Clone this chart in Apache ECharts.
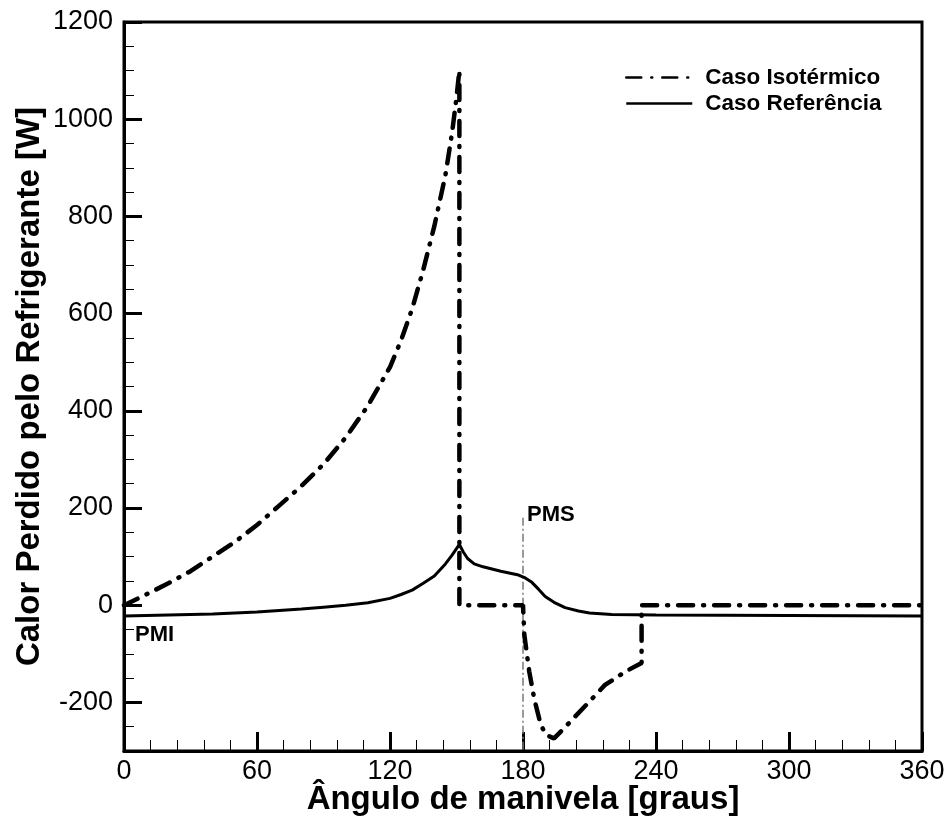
<!DOCTYPE html>
<html lang="pt">
<head>
<meta charset="utf-8">
<script src="https://cdn.jsdelivr.net/npm/echarts@6/dist/echarts.min.js"></script>
</head>
<body style="margin:0">
<div id="chart" style="width:947px;height:819px"></div>
<script>
// Caso Isotérmico
var isoAngle = [0, 10, 20, 30, 40, 50, 60, 70, 80, 90, 100, 110, 120, 125, 130, 135, 140, 145, 148, 150, 151.3,
    151.3, 180, 180.6, 182.8, 185, 188, 190.4, 194, 199.4, 210, 217, 226.4, 233.5, 233.5, 360];
var isoValue = [0, 22, 45, 70, 100, 130, 165, 205, 245, 290, 345, 410, 490, 545, 610, 690, 780, 885, 972, 1045, 1100,
    0, 0, -61, -136, -191, -246, -267, -274, -249, -198, -164, -136, -119, 0, 0];

// Caso Referência
var refAngle = [0, 20, 40, 60, 80, 90, 100, 110, 120, 125, 130, 135, 140, 145, 148, 151.3,
    153, 155, 158, 162, 170, 178, 181, 184, 187, 190, 194, 199, 205, 210, 220, 240, 300, 360];
var refValue = [-22, -20, -18, -14, -8, -4, 0, 5, 14, 22, 31, 45, 60, 85, 103, 125,
    110, 96, 85, 79, 70, 62, 56, 47, 33, 18, 6, -5, -12, -16, -19, -20, -21, -22];

var pmsLine = [[180, 180], [180, -300]];
var pmiPoint = [[0, -61]];

var xTicks = [0, 60, 120, 180, 240, 300, 360];
var yTicks = [-200, 0, 200, 400, 600, 800, 1000, 1200];

function zip(a, b) {
    return a.map(function (v, i) { return [v, b[i]]; });
}

var chart = echarts.init(document.getElementById('chart'));
var font = 'Liberation Sans, Arial, sans-serif';

chart.setOption({
    animation: false,
    backgroundColor: '#fff',
    grid: {left: 124, right: 25, top: 22, bottom: 68, show: true, borderColor: '#000', borderWidth: 3,
        containLabel: false, outerBoundsMode: 'none'},
    legend: {
        orient: 'vertical',
        left: 620,
        top: 61,
        itemWidth: 66,
        itemHeight: 14,
        itemGap: 3,
        data: ['Caso Isotérmico', 'Caso Referência'],
        itemStyle: {opacity: 0},
        lineStyle: {width: 2.5, color: '#000'},
        textStyle: {fontFamily: font, fontWeight: 'bold', fontSize: 22.5, color: '#000', padding: [0, 0, 0, 8]}
    },
    xAxis: {
        type: 'value',
        min: xTicks[0],
        max: xTicks[xTicks.length - 1],
        interval: 60,
        name: 'Ângulo de manivela [graus]',
        nameLocation: 'middle',
        nameGap: 32,
        nameMoveOverlap: false,
        nameTextStyle: {fontFamily: font, fontWeight: 'bold', fontSize: 33, color: '#000'},
        axisLine: {onZero: false, lineStyle: {color: '#000', width: 3}},
        axisTick: {inside: true, length: 19, lineStyle: {color: '#000', width: 3}},
        minorTick: {show: true, splitNumber: 5, length: 11, lineStyle: {color: '#000', width: 1}},
        axisLabel: {fontFamily: font, fontSize: 27, color: '#000', margin: 7},
        splitLine: {show: false}
    },
    yAxis: [{
        type: 'value',
        min: -300,
        max: 1200,
        interval: 50,
        position: 'left',
        name: 'Calor Perdido pelo Refrigerante [W]',
        nameLocation: 'middle',
        nameRotate: 90,
        nameGap: 78,
        nameMoveOverlap: false,
        nameTextStyle: {fontFamily: font, fontWeight: 'bold', fontSize: 33, color: '#000'},
        axisLine: {onZero: false, lineStyle: {color: '#000', width: 3}},
        axisTick: {inside: true, length: 10, lineStyle: {color: '#000', width: 1}},
        axisLabel: {show: false},
        splitLine: {show: false}
    }, {
        type: 'value',
        min: -300,
        max: 1200,
        interval: 50,
        position: 'left',
        axisLine: {show: false, onZero: false},
        axisTick: {inside: true, length: 18, customValues: yTicks, lineStyle: {color: '#000', width: 3}},
        axisLabel: {customValues: yTicks, formatter: function (v) { return String(v); },
            fontFamily: font, fontSize: 27, color: '#000', margin: 11},
        splitLine: {show: false}
    }],
    series: [{
        name: 'Caso Isotérmico',
        type: 'line',
        data: zip(isoAngle, isoValue),
        symbol: 'none',
        itemStyle: {color: '#000'},
        lineStyle: {color: '#000', width: 4.5, type: [15, 10, 1, 10], cap: 'round'},
        z: 3
    }, {
        name: 'Caso Referência',
        type: 'line',
        data: zip(refAngle, refValue),
        symbol: 'none',
        itemStyle: {color: '#000'},
        lineStyle: {color: '#000', width: 3},
        z: 4
    }, {
        name: 'PMS',
        type: 'line',
        data: pmsLine,
        symbol: 'none',
        lineStyle: {color: '#777', width: 1.5, type: [8, 3, 2, 3]},
        markPoint: {
            symbol: 'circle', symbolSize: 0,
            data: [{coord: pmsLine[0], value: 'PMS'}],
            label: {show: true, position: 'right', distance: 4, offset: [0, -3], formatter: 'PMS',
                fontFamily: font, fontWeight: 'bold', fontSize: 22, color: '#000'}
        },
        z: 2
    }, {
        name: 'PMI',
        type: 'scatter',
        data: pmiPoint,
        symbolSize: 0,
        itemStyle: {color: '#000', opacity: 1},
        label: {show: true, position: 'right', distance: 11, formatter: 'PMI',
            fontFamily: font, fontWeight: 'bold', fontSize: 22, color: '#000'}
    }]
});
</script>
</body>
</html>
